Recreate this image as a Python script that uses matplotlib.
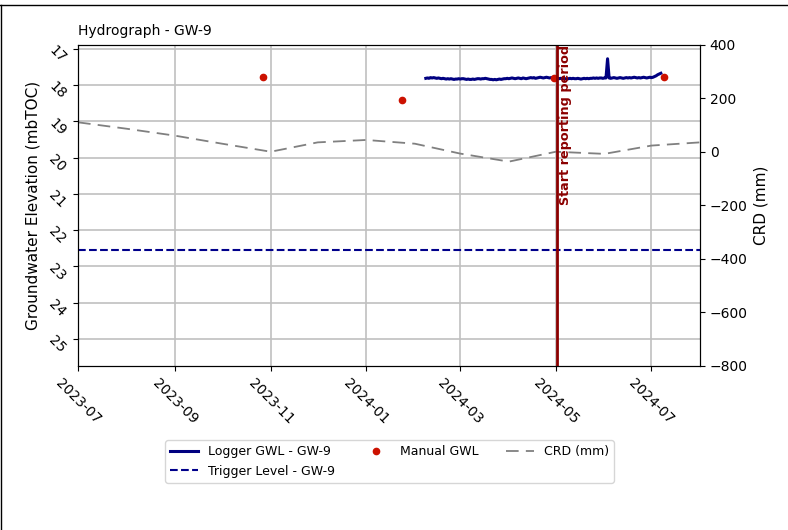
import numpy as np
import pandas as pd
import matplotlib
matplotlib.use('Agg')
import matplotlib.pyplot as plt
import matplotlib.dates as mdates
from matplotlib.lines import Line2D

# logger groundwater level (mbTOC), daily from 2024-02-08 to 2024-07-07
logger_start = '2024-02-08'
logger_gwl = [
    17.81, 17.80, 17.81, 17.79, 17.80, 17.79, 17.80, 17.81, 17.80, 17.81,
    17.82, 17.81, 17.82, 17.83, 17.82, 17.83, 17.82, 17.83, 17.84, 17.83,
    17.83, 17.82, 17.83, 17.82, 17.82, 17.83, 17.84, 17.83, 17.84, 17.84,
    17.83, 17.84, 17.83, 17.82, 17.82, 17.83, 17.82, 17.82, 17.81, 17.82,
    17.83, 17.84, 17.84, 17.85, 17.84, 17.85, 17.84, 17.83, 17.84, 17.83,
    17.82, 17.82, 17.81, 17.82, 17.81, 17.80, 17.81, 17.82, 17.81, 17.80,
    17.81, 17.82, 17.80, 17.81, 17.82, 17.81, 17.80, 17.79, 17.80, 17.79,
    17.81, 17.80, 17.79, 17.78, 17.79, 17.80, 17.79, 17.78, 17.79, 17.80,
    17.79, 17.80, 17.79, 17.80, 17.81, 17.82, 17.81, 17.82, 17.81, 17.82,
    17.83, 17.82, 17.81, 17.82, 17.81, 17.82, 17.82, 17.81, 17.82, 17.83,
    17.82, 17.81, 17.82, 17.81, 17.82, 17.81, 17.81, 17.80, 17.81, 17.80,
    17.81, 17.80, 17.80, 17.81, 17.80, 17.80, 17.27, 17.80, 17.81, 17.80,
    17.79, 17.80, 17.81, 17.80, 17.79, 17.80, 17.81, 17.80, 17.79, 17.80,
    17.79, 17.80, 17.79, 17.78, 17.79, 17.80, 17.79, 17.80, 17.79, 17.78,
    17.79, 17.80, 17.79, 17.78, 17.79, 17.78, 17.76, 17.74, 17.71, 17.69,
    17.67,
]

manual_dates = ['2023-10-27', '2024-01-24', '2024-04-30', '2024-07-09']
manual_gwl = [17.76, 18.40, 17.79, 17.78]

trigger_level = 22.56

crd_dates = ['2023-07-01', '2023-08-01', '2023-09-01', '2023-10-01', '2023-11-01',
             '2023-12-01', '2024-01-01', '2024-02-01', '2024-03-01', '2024-04-01',
             '2024-05-01', '2024-06-01', '2024-07-01', '2024-08-01']
crd_mm = [111, 87, 61, 31, 1, 36, 45, 31, -6, -36, 1, -7, 24, 36]

report_start = '2024-05-02'

logger_dates = pd.date_range(logger_start, periods=len(logger_gwl), freq='D')

fig = plt.figure(figsize=(7.88, 5.3), dpi=100)
ax = fig.add_axes([78/788, 1-366/530, 622/788, 321/530])
ax2 = ax.twinx()

l1, = ax.plot(logger_dates, logger_gwl, color='navy', lw=2.2, label='Logger GWL - GW-9', zorder=3)
l2 = ax.axhline(trigger_level, color='darkblue', ls='--', lw=1.5, label='Trigger Level - GW-9')
l3, = ax.plot(pd.to_datetime(manual_dates), manual_gwl, 'o', color='#cc1100', ms=4.5,
              label='Manual GWL', zorder=4)
l4, = ax2.plot(pd.to_datetime(crd_dates), crd_mm, color='gray', ls=(0, (7, 4)), lw=1.3,
               label='CRD (mm)')

ax2.axvline(pd.Timestamp(report_start), color='darkred', lw=2)
ax2.text(pd.Timestamp(report_start) + pd.Timedelta(days=1), 400, 'Start reporting period',
         rotation=90, va='top', ha='left', color='darkred', fontweight='bold', fontsize=9.2)

ax.set_ylim(25.75, 16.89)
ax.set_yticks(np.arange(17, 26, 1))
ax2.set_ylim(-800, 400)
ax.set_xlim(pd.Timestamp('2023-07-01'), pd.Timestamp('2024-08-01'))
ax.xaxis.set_major_locator(mdates.MonthLocator(bymonth=[1, 3, 5, 7, 9, 11]))
ax.xaxis.set_major_formatter(mdates.DateFormatter('%Y-%m'))
ax.tick_params(axis='x', labelrotation=-45)
ax.tick_params(axis='y', labelrotation=-45)
ax.grid(True, color='#c0c0c0', lw=1.2)

ax.set_ylabel('Groundwater Elevation (mbTOC)', fontsize=11)
ax2.set_ylabel('CRD (mm)', fontsize=11)
ax.set_title('Hydrograph - GW-9', loc='left', fontsize=10, pad=7)

fig.legend(handles=[l1, l2, l3, l4], loc='upper center', bbox_to_anchor=(389.5/788, 1-434/530),
           ncol=3, fontsize=9, columnspacing=2.2, handlelength=2.2)

# frame left over from the original page
fig.add_artist(Line2D([0, 1], [1-5/530, 1-5/530], color='black', lw=1))
fig.add_artist(Line2D([1/788, 1/788], [0, 1-5/530], color='black', lw=1))

fig.savefig('out.png', dpi=100)
